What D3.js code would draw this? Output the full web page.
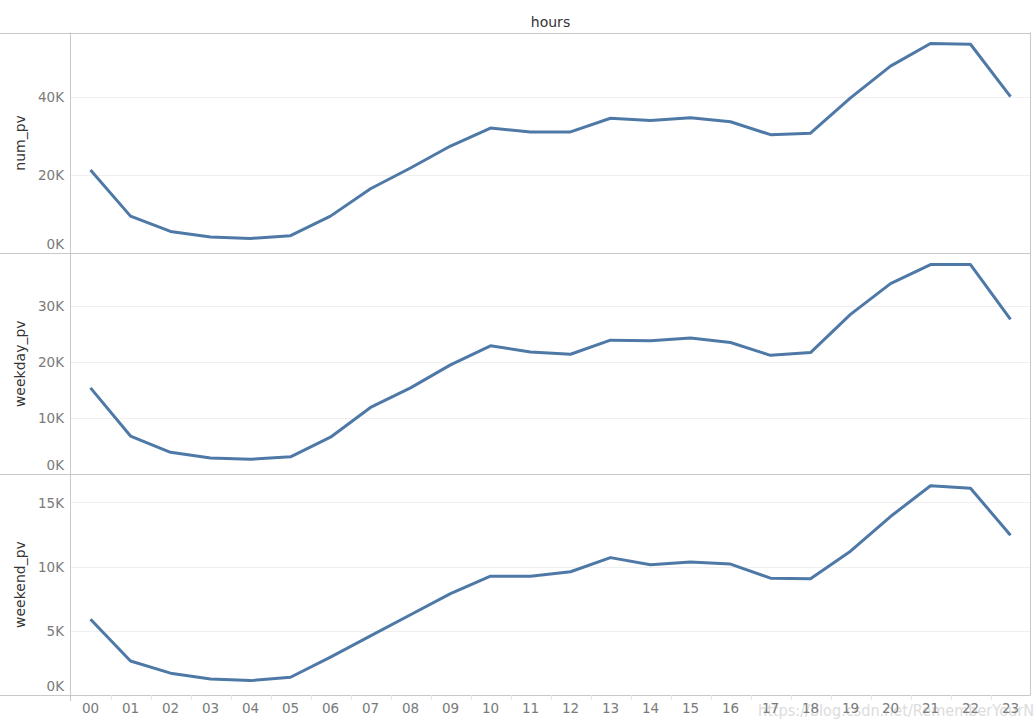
<!DOCTYPE html>
<html>
<head>
<meta charset="utf-8">
<script src="https://cdn.jsdelivr.net/npm/d3@7"></script>
<style>
    body { margin: 0; background: #fff; }
    #chart { width: 1036px; height: 721px; }
    text { font-family: "DejaVu Sans", sans-serif; }
</style>
</head>
<body>
<div id="chart"></div>
<script>
//Datos
let hours = ['00','01','02','03','04','05','06','07','08','09','10','11','12','13','14','15','16','17','18','19','20','21','22','23'];
let numPv = [21300, 9500, 5600, 4150, 3800, 4500, 9500, 16500, 21800, 27400, 32000, 31000, 31000, 34500, 33900, 34600, 33600, 30300, 30700, 39700, 47800, 53600, 53400, 40000];
let weekdayPv = [15400, 6800, 3900, 2900, 2650, 3100, 6600, 11900, 15400, 19500, 22900, 21800, 21400, 23900, 23800, 24300, 23500, 21200, 21700, 28500, 34000, 37400, 37400, 27600];
let weekendPv = [5900, 2650, 1700, 1250, 1120, 1380, 2950, 4600, 6250, 7900, 9250, 9250, 9600, 10700, 10150, 10350, 10200, 9100, 9050, 11200, 13900, 16300, 16100, 12450];

let seriesNames = ['num_pv', 'weekday_pv', 'weekend_pv'];
let seriesValues = [numPv, weekdayPv, weekendPv];
let yTicks = [[0, 20000, 40000], [0, 10000, 20000, 30000], [0, 5000, 10000, 15000]];
let yMax = [56400, 39400, 17200];

//Colores fijos
const COLOR_LINE = '#4e79a7',
COLOR_BORDER = '#c8c8c8',
COLOR_GRID = '#efefef',
COLOR_TICK = '#7a7a7a',
COLOR_TITLE = '#333333';

let margin = {top: 32.5, right: 5.5, bottom: 26, left: 70.5},
    width = 1036 - margin.left - margin.right,
    height = 721 - margin.top - margin.bottom,
    paneHeight = height / seriesNames.length;

let svg = d3.select('#chart')
    .append('svg')
        .attr('width', 1036)
        .attr('height', 721);

let x = d3.scaleBand()
    .domain(hours)
    .range([margin.left, margin.left + width])
    .padding(0);

//Titulo superior
svg.append('text')
    .attr('x', margin.left + width / 2)
    .attr('y', 27)
    .attr('text-anchor', 'middle')
    .style('font-size', '14px')
    .style('fill', COLOR_TITLE)
    .text('hours');

//Paneles
seriesNames.forEach(function(name, i) {
    let top = margin.top + i * paneHeight,
        bottom = top + paneHeight;

    let y = d3.scaleLinear()
        .domain([0, yMax[i]])
        .range([bottom, top]);

    let g = svg.append('g').attr('class', 'pane pane_' + name);

    //Rejilla
    g.selectAll('.grid')
        .data(yTicks[i].filter(function(d) { return d != 0; }))
        .enter()
        .append('line')
        .attr('class', 'grid')
        .attr('x1', margin.left)
        .attr('x2', margin.left + width)
        .attr('y1', function(d) { return Math.round(y(d)) + 0.5; })
        .attr('y2', function(d) { return Math.round(y(d)) + 0.5; })
        .style('stroke', COLOR_GRID)
        .style('stroke-width', 1);

    //Eje Y
    let yAxis = function(g) {
        g.call(d3.axisLeft(y).tickValues(yTicks[i]).tickSize(0).tickPadding(6)
            .tickFormat(function(d) { return (d / 1000) + 'K'; }));
        g.call(function(g) { g.selectAll('.domain').remove(); });
        g.call(function(g) {
            g.selectAll('text')
                .style('font-size', '13.5px')
                .style('fill', COLOR_TICK)
                .style('font-family', '"DejaVu Sans", sans-serif')
                .attr('dy', function(d) { return d == 0 ? '-0.35em' : '0.35em'; });
        });
    };

    g.append('g')
        .attr('transform', 'translate(' + (margin.left - 0.5) + ',0)')
        .call(yAxis);

    //Titulo del eje
    g.append('text')
        .attr('transform', 'translate(25,' + (top + paneHeight / 2) + ') rotate(-90)')
        .attr('text-anchor', 'middle')
        .style('font-size', '14px')
        .style('fill', COLOR_TITLE)
        .text(name);

    //Linea
    let line = d3.line()
        .x(function(d, j) { return x(hours[j]) + x.bandwidth() / 2; })
        .y(function(d) { return y(d); });

    g.append('path')
        .datum(seriesValues[i])
        .attr('d', line)
        .style('fill', 'none')
        .style('stroke', COLOR_LINE)
        .style('stroke-width', 3)
        .style('stroke-linejoin', 'round');

    //Separador horizontal
    svg.append('line')
        .attr('x1', 0)
        .attr('x2', margin.left + width)
        .attr('y1', Math.round(top) + 0.5)
        .attr('y2', Math.round(top) + 0.5)
        .style('stroke', COLOR_BORDER);
});

//Linea inferior
svg.append('line')
    .attr('x1', 0)
    .attr('x2', margin.left + width)
    .attr('y1', Math.round(margin.top + height) + 0.5)
    .attr('y2', Math.round(margin.top + height) + 0.5)
    .style('stroke', COLOR_BORDER);

//Bordes verticales
svg.append('line')
    .attr('x1', margin.left)
    .attr('x2', margin.left)
    .attr('y1', margin.top)
    .attr('y2', margin.top + height + 6)
    .style('stroke', COLOR_BORDER);

svg.append('line')
    .attr('x1', margin.left + width)
    .attr('x2', margin.left + width)
    .attr('y1', margin.top)
    .attr('y2', margin.top + height)
    .style('stroke', COLOR_BORDER);

//Marca de agua (detras de las etiquetas)
svg.append('text')
    .attr('x', 758)
    .attr('y', 716)
    .attr('textLength', 276)
    .attr('lengthAdjust', 'spacingAndGlyphs')
    .style('font-size', '16px')
    .style('fill', '#dcdcdc')
    .text('https://blog.csdn.net/RememberYourN');

//Eje X
let xAxis = function(g) {
    g.call(d3.axisBottom(x).tickSize(0).tickPadding(8));
    g.call(function(g) { g.selectAll('.domain').remove(); });
    g.call(function(g) {
        g.selectAll('text')
            .style('font-size', '13.5px')
            .style('fill', COLOR_TICK)
            .style('font-family', '"DejaVu Sans", sans-serif');
    });
};

svg.append('g')
    .attr('transform', 'translate(0,' + (Math.round(margin.top + height) + 0.5) + ')')
    .call(xAxis);

//Marcas entre categorias
svg.append('g')
    .selectAll('line')
    .data(hours.slice(1))
    .enter()
    .append('line')
    .attr('x1', function(d) { return Math.round(x(d)) + 0.5; })
    .attr('x2', function(d) { return Math.round(x(d)) + 0.5; })
    .attr('y1', margin.top + height)
    .attr('y2', margin.top + height + 5)
    .style('stroke', '#e6e6e6');
</script>
</body>
</html>
